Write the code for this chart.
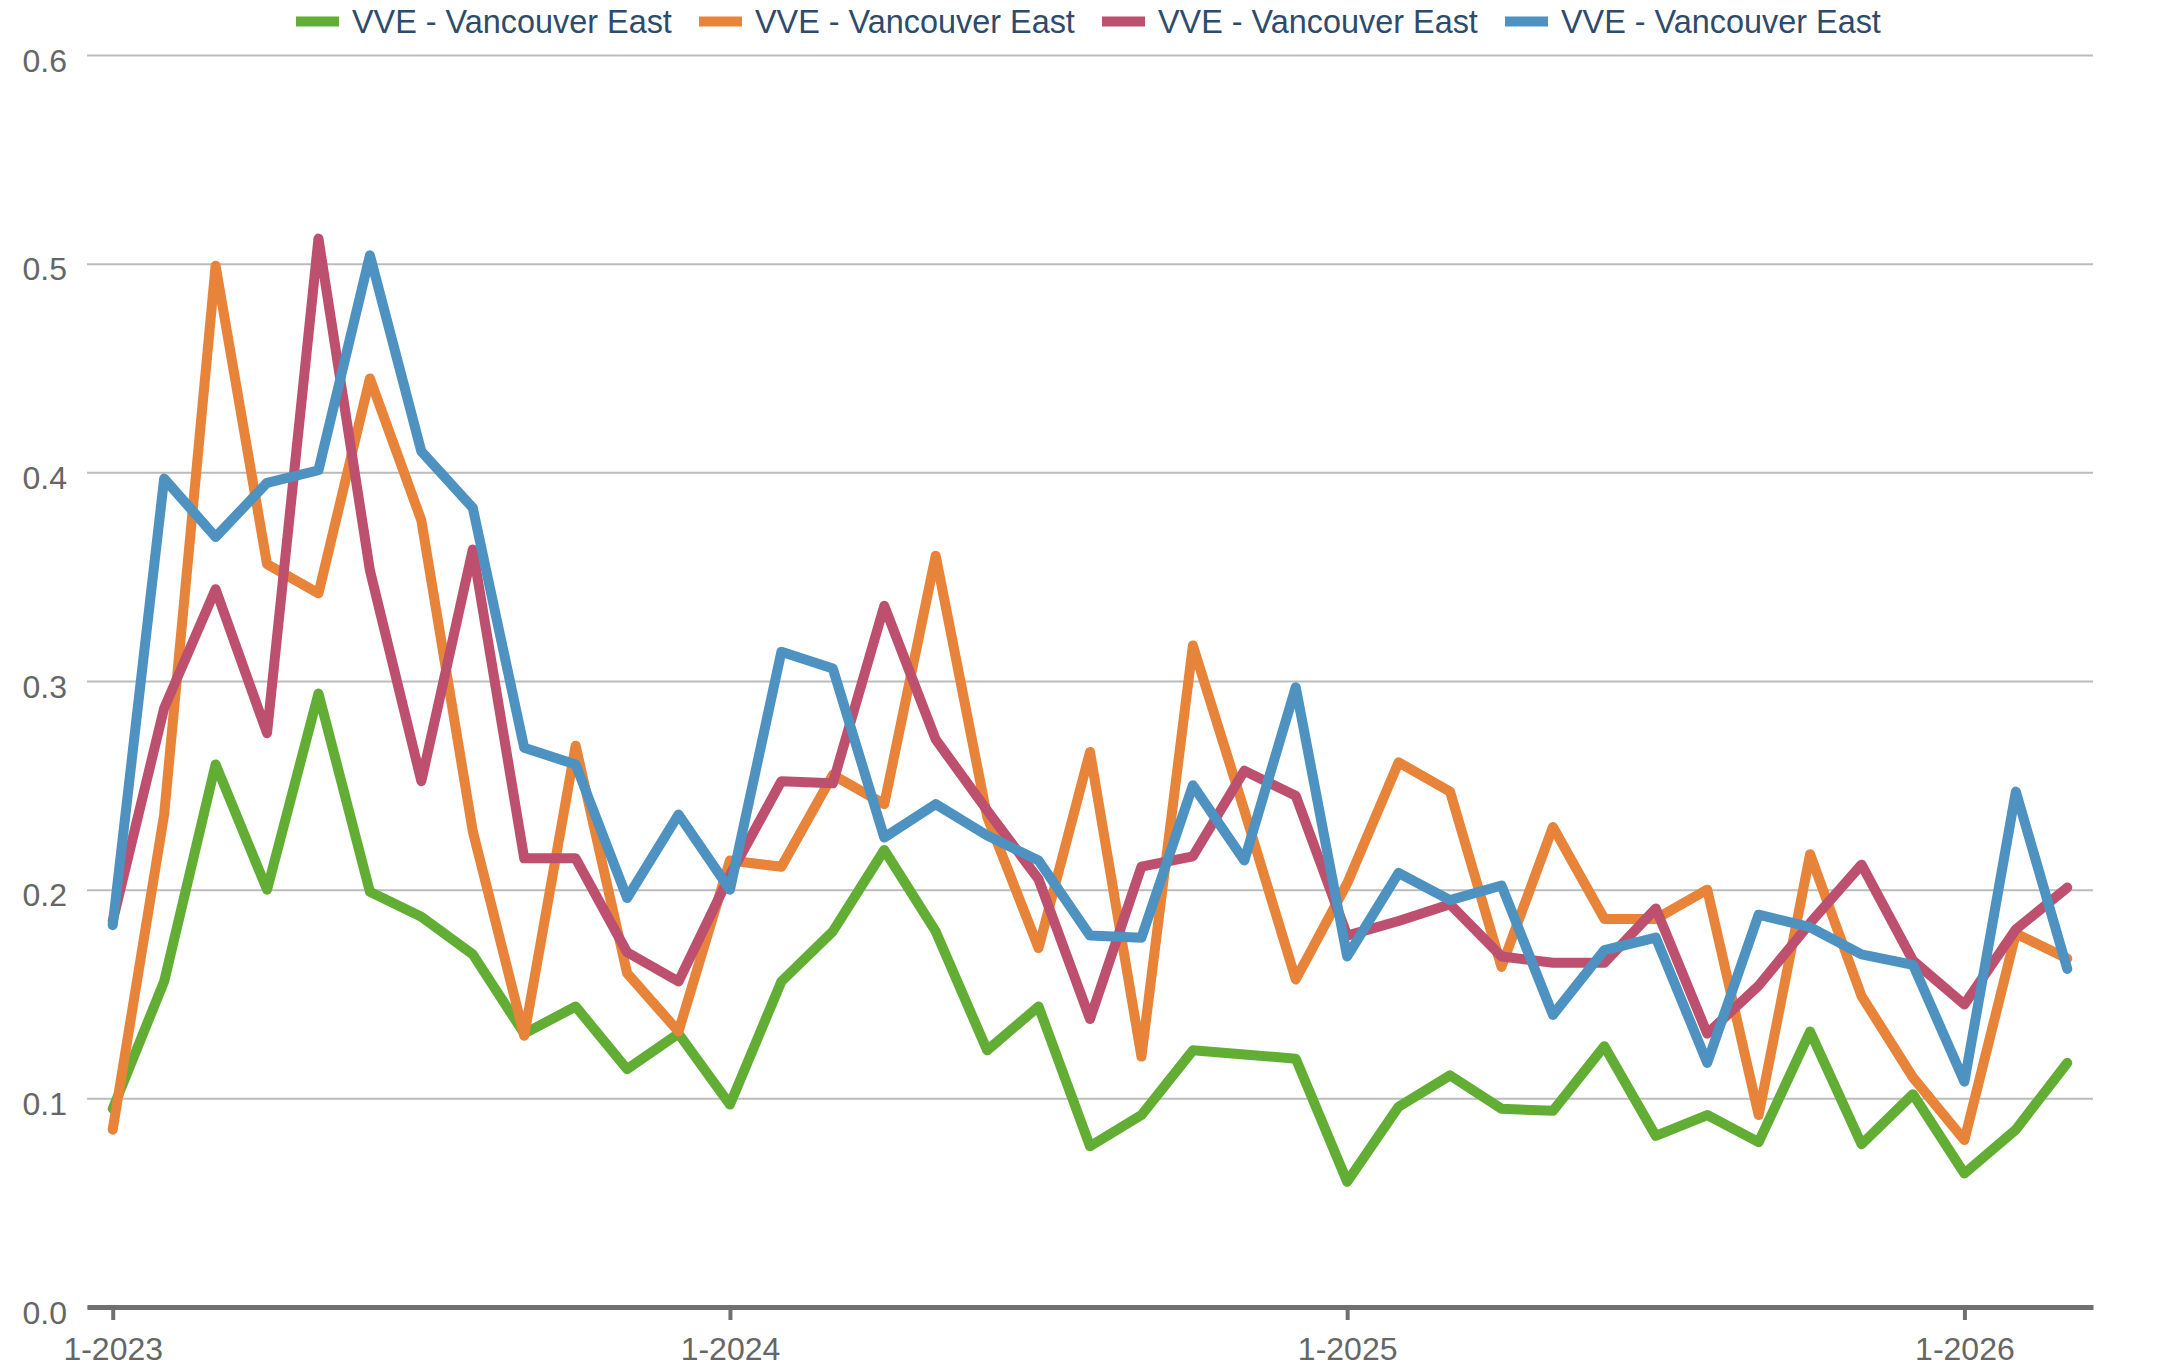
<!DOCTYPE html>
<html>
<head>
<meta charset="utf-8">
<script src="https://cdn.jsdelivr.net/npm/d3@7"></script>
<style>
  body { margin: 0; background: #fff; }
  svg { display: block; font-family: Arial, "Liberation Sans", Helvetica, sans-serif; }
</style>
</head>
<body>
<div id="chart"></div>
<script>
const months = [
  "1-2023", "2-2023", "3-2023", "4-2023", "5-2023", "6-2023", "7-2023", "8-2023", "9-2023", "10-2023", "11-2023", "12-2023",
  "1-2024", "2-2024", "3-2024", "4-2024", "5-2024", "6-2024", "7-2024", "8-2024", "9-2024", "10-2024", "11-2024", "12-2024",
  "1-2025", "2-2025", "3-2025", "4-2025", "5-2025", "6-2025", "7-2025", "8-2025", "9-2025", "10-2025", "11-2025", "12-2025",
  "1-2026", "2-2026", "3-2026"
];
const xTickLabels = ["1-2023", "1-2024", "1-2025", "1-2026"];
const yTicks = [0, 0.1, 0.2, 0.3, 0.4, 0.5, 0.6];

const seriesNames = ["VVE - Vancouver East", "VVE - Vancouver East", "VVE - Vancouver East", "VVE - Vancouver East"];
const seriesColors = ["#62ae34", "#e8833a", "#bd506e", "#4d92c0"];

const greenValues = [
  0.095, 0.156, 0.26, 0.2, 0.294, 0.199, 0.187, 0.169, 0.131, 0.144, 0.114, 0.131,
  0.097, 0.156, 0.18, 0.219, 0.18, 0.123, 0.144, 0.077, 0.092, 0.123, 0.121, 0.119,
  0.06, 0.096, 0.111, 0.095, 0.094, 0.125, 0.082, 0.092, 0.079, 0.132, 0.078, 0.102,
  0.064, 0.085, 0.117
];
const orangeValues = [
  0.085, 0.236, 0.499, 0.356, 0.342, 0.445, 0.377, 0.228, 0.13, 0.269, 0.16, 0.132,
  0.214, 0.211, 0.255, 0.241, 0.36, 0.235, 0.172, 0.266, 0.12, 0.317, 0.238, 0.157,
  0.203, 0.261, 0.247, 0.163, 0.23, 0.186, 0.186, 0.2, 0.092, 0.217, 0.149, 0.11,
  0.08, 0.179, 0.167
];
const redValues = [
  0.185, 0.287, 0.344, 0.275, 0.512, 0.353, 0.252, 0.363, 0.215, 0.215, 0.17, 0.156,
  0.207, 0.252, 0.251, 0.336, 0.272, 0.238, 0.205, 0.138, 0.211, 0.216, 0.257, 0.245,
  0.178, 0.185, 0.193, 0.168, 0.165, 0.165, 0.191, 0.131, 0.154, 0.184, 0.212, 0.166,
  0.145, 0.181, 0.201
];
const blueValues = [
  0.183, 0.397, 0.369, 0.395, 0.401, 0.504, 0.41, 0.383, 0.268, 0.26, 0.196, 0.236,
  0.2, 0.314, 0.306, 0.225, 0.241, 0.226, 0.214, 0.178, 0.177, 0.25, 0.214, 0.297,
  0.168, 0.208, 0.195, 0.202, 0.14, 0.171, 0.177, 0.117, 0.188, 0.182, 0.169, 0.164,
  0.108, 0.247, 0.162
];

const width = 2159;
const height = 1369;
const margins = { top: 55, bottom: 62, left: 87, right: 66 };

const series = [greenValues, orangeValues, redValues, blueValues].map((values, i) => ({
  name: seriesNames[i],
  color: seriesColors[i],
  values: values.map((v, j) => ({ month: months[j], value: v }))
}));

const svg = d3
  .select("#chart")
  .append("svg")
  .attr("width", width)
  .attr("height", height);

const xScale = d3
  .scalePoint()
  .domain(months)
  .range([margins.left, width - margins.right])
  .padding(0.5);

const yScale = d3
  .scaleLinear()
  .domain([0, 0.6])
  .range([height - margins.bottom, margins.top]);

// gridlines + y labels
const yAxis = d3
  .axisLeft(yScale)
  .tickValues(yTicks)
  .tickFormat(d3.format(".1f"))
  .tickSize(-(width - margins.left - margins.right))
  .tickPadding(20);

svg
  .append("g")
  .attr("class", "axis y-axis")
  .attr("transform", `translate(${margins.left},0)`)
  .call(yAxis)
  .call((g) => g.select(".domain").remove())
  .call((g) =>
    g.selectAll(".tick line").attr("stroke", "#bbbbbb").attr("stroke-width", 2)
  )
  .call((g) =>
    g
      .selectAll(".tick text")
      .attr("fill", "#666666")
      .attr("font-size", 32)
      .attr("dy", "0.5em")
      .attr("y", 0)
  );

// x axis
const xAxis = d3
  .axisBottom(xScale)
  .tickValues(xTickLabels)
  .tickSizeOuter(0)
  .tickSizeInner(13)
  .tickPadding(17);

svg
  .append("g")
  .attr("class", "axis x-axis")
  .attr("transform", `translate(0,${yScale(0)})`)
  .call(xAxis)
  .call((g) =>
    g.select(".domain").attr("stroke", "#707070").attr("stroke-width", 5)
  )
  .call((g) =>
    g.selectAll(".tick line").attr("stroke", "#707070").attr("stroke-width", 4)
  )
  .call((g) =>
    g.selectAll(".tick text").attr("fill", "#666666").attr("font-size", 32)
  );

// lines
const line = d3
  .line()
  .x((d) => xScale(d.month))
  .y((d) => yScale(d.value));

svg
  .selectAll(".series")
  .data(series)
  .join("path")
  .attr("class", "series")
  .attr("d", (d) => line(d.values))
  .attr("fill", "none")
  .attr("stroke", (d) => d.color)
  .attr("stroke-width", 10)
  .attr("stroke-linejoin", "round")
  .attr("stroke-linecap", "round");

// legend
const legendStep = 403;
const legend = svg
  .append("g")
  .attr("class", "legend")
  .selectAll("g")
  .data(series)
  .join("g")
  .attr("transform", (d, i) => `translate(${296 + i * legendStep},0)`);

legend
  .append("rect")
  .attr("x", 0)
  .attr("y", 16.5)
  .attr("width", 43)
  .attr("height", 10)
  .attr("fill", (d) => d.color);

legend
  .append("text")
  .attr("x", 56)
  .attr("y", 33)
  .attr("font-size", 32.4)
  .attr("fill", "#2d4b6b")
  .text((d) => d.name);
</script>
</body>
</html>
